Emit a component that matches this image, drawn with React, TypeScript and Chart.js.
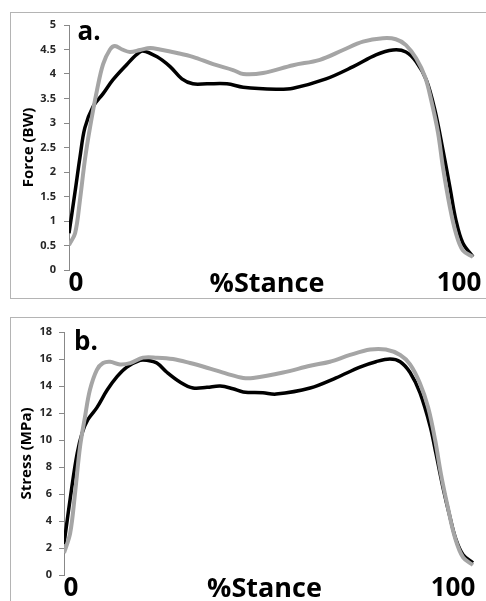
import React, { useEffect, useRef } from 'react';
import { Chart, registerables } from 'chart.js';

Chart.register(...registerables);

const FONT = "'Open Sans', 'DejaVu Sans', sans-serif";

// ---------- Data: panel a (Force, BW) ----------
const forceBlackX = [0, 1.5, 2.7, 3.9, 5.9, 8.4, 10.8, 14.3, 16.7, 18.2, 21.7, 24.9, 27.8, 30.5, 34, 38.9, 42.9, 51, 55.2, 63.3, 70, 75.6, 79.8, 83, 85.5, 88, 90.1, 92.1, 93.8, 95.3, 97, 99.5];
const forceBlackY = [0.75, 1.6, 2.3, 2.9, 3.33, 3.6, 3.88, 4.2, 4.4, 4.47, 4.35, 4.15, 3.9, 3.8, 3.8, 3.8, 3.73, 3.69, 3.71, 3.9, 4.15, 4.39, 4.49, 4.45, 4.25, 3.88, 3.27, 2.45, 1.7, 1.02, 0.55, 0.27];
const forceGrayX = [0, 1.5, 2.7, 3.9, 5.2, 6.9, 8.4, 10.1, 11.3, 13.1, 15, 17.5, 20, 22.4, 26.6, 30.5, 35.5, 40.4, 42.9, 47.8, 55.2, 61.8, 67.5, 72.4, 77.3, 80.5, 83, 85.5, 87.7, 89.2, 90.9, 92.1, 93.8, 95.3, 97, 99.5];
const forceGrayY = [0.51, 0.75, 1.43, 2.24, 2.92, 3.67, 4.2, 4.5, 4.57, 4.5, 4.45, 4.49, 4.53, 4.5, 4.43, 4.35, 4.2, 4.08, 4.0, 4.02, 4.18, 4.29, 4.49, 4.66, 4.73, 4.71, 4.59, 4.32, 3.94, 3.47, 2.8, 2.1, 1.29, 0.75, 0.4, 0.27];

// ---------- Data: panel b (Stress, MPa) ----------
const stressBlackX = [0, 1.9, 3.2, 4.4, 5.8, 8.0, 10.5, 12.9, 15.3, 18.5, 20.2, 22.6, 25.1, 28.2, 31.4, 34.8, 38, 41.1, 43.6, 48.4, 51.6, 59.9, 66.2, 72, 75.9, 79.3, 81.8, 84.2, 86.6, 89.1, 90.5, 92.2, 93.9, 95.4, 97.1, 99.5];
const stressBlackY = [2.3, 6.5, 9.0, 10.5, 11.5, 12.4, 13.7, 14.7, 15.4, 15.9, 15.9, 15.7, 15.0, 14.3, 13.85, 13.9, 14.0, 13.8, 13.56, 13.5, 13.4, 13.85, 14.6, 15.4, 15.8, 16.0, 15.8, 15.0, 13.5, 11.0, 9.0, 6.5, 4.3, 2.6, 1.5, 0.9];
const stressGrayX = [0, 1.5, 2.7, 3.9, 5.1, 6.3, 8.0, 9.5, 11.2, 13.6, 16.1, 19.2, 22.6, 26.5, 30.7, 34.8, 39.7, 43.6, 46, 53.3, 59.9, 64.7, 69.6, 74.5, 78.3, 81.8, 84.2, 86.6, 88.6, 90.3, 91.7, 93.4, 95.1, 97.1, 99.5];
const stressGrayY = [1.63, 3.1, 6.1, 9.5, 11.7, 13.7, 15.2, 15.7, 15.8, 15.6, 15.7, 16.1, 16.1, 16.0, 15.7, 15.35, 14.9, 14.6, 14.6, 15.0, 15.5, 15.8, 16.3, 16.7, 16.7, 16.3, 15.6, 14.2, 12.4, 10.0, 7.5, 5.0, 2.8, 1.3, 0.74];

// ---------- Text ----------
const xStartLabel = '0';
const xEndLabel = '100';
const xTitle = '%Stance';
const panelLetters = ['a.', 'b.'];
const yTitles = ['Force (BW)', 'Stress (MPa)'];
const yMaxes = [5, 18];
const ySteps = [0.5, 2];

const toPoints = (xs: number[], ys: number[]) => xs.map((x, i) => ({ x, y: ys[i] }));

const panelTextPlugin = {
  id: 'panelText',
  afterDraw(chart: any, _args: any, opts: any) {
    const { ctx, chartArea } = chart;
    ctx.save();
    ctx.fillStyle = '#000';
    ctx.textBaseline = 'middle';
    ctx.textAlign = 'center';
    ctx.font = `bold 26px ${FONT}`;
    ctx.fillText(opts.letter, chartArea.left + opts.letterDx, chartArea.top + opts.letterDy);
    const by = chartArea.bottom + opts.bottomDy;
    ctx.fillText(xStartLabel, chartArea.left + 7, by);
    ctx.fillText(xEndLabel, chartArea.right - opts.endDx, by);
    ctx.font = `bold 27px ${FONT}`;
    ctx.fillText(xTitle, (chartArea.left + chartArea.right) / 2 - 5, by);
    ctx.restore();
  },
};

function makeConfig(
  blackX: number[], blackY: number[], grayX: number[], grayY: number[],
  idx: number, pad: any, axisWidth: number, titlePad: number, tickPad: number,
  letterDx: number, letterDy: number, bottomDy: number, endDx: number
): any {
  return {
    type: 'line',
    data: {
      datasets: [
        {
          label: 'gray',
          data: toPoints(grayX, grayY),
          borderColor: '#a5a5a5',
          borderWidth: 4,
          pointRadius: 0,
          tension: 0.35,
          fill: false,
        },
        {
          label: 'black',
          data: toPoints(blackX, blackY),
          borderColor: '#000000',
          borderWidth: 3.5,
          pointRadius: 0,
          tension: 0.35,
          fill: false,
        },
      ],
    },
    options: {
      animation: false,
      responsive: false,
      maintainAspectRatio: false,
      layout: { padding: pad },
      plugins: {
        legend: { display: false },
        tooltip: { enabled: false },
        panelText: { letter: panelLetters[idx], letterDx, letterDy, bottomDy, endDx },
      },
      scales: {
        x: { type: 'linear', min: 0, max: 100, display: false },
        y: {
          type: 'linear',
          min: 0,
          max: yMaxes[idx],
          afterFit: (scale: any) => { scale.width = axisWidth; },
          ticks: {
            stepSize: ySteps[idx],
            padding: tickPad,
            color: '#262626',
            font: { family: FONT, size: 11, weight: 'bold' },
            callback: (v: any) => String(Math.round(Number(v) * 10) / 10),
          },
          grid: {
            drawOnChartArea: false,
            drawTicks: true,
            tickLength: 5,
            color: '#888888',
            lineWidth: 1,
          },
          border: { display: true, color: '#888888', width: 1 },
          title: {
            display: true,
            text: yTitles[idx],
            color: '#000',
            font: { family: FONT, size: 15, weight: 'bold' },
            padding: { top: titlePad, bottom: 0 },
          },
        },
      },
    },
    plugins: [panelTextPlugin],
  };
}

export default function App() {
  const refA = useRef<HTMLCanvasElement>(null);
  const refB = useRef<HTMLCanvasElement>(null);

  useEffect(() => {
    const a = new Chart(
      refA.current as HTMLCanvasElement,
      makeConfig(forceBlackX, forceBlackY, forceGrayX, forceGrayY, 0,
        { left: 15, top: 25, right: 11, bottom: 30 }, 54, 5, 8, 20, 8, 14, 16)
    );
    const b = new Chart(
      refB.current as HTMLCanvasElement,
      makeConfig(stressBlackX, stressBlackY, stressGrayX, stressGrayY, 1,
        { left: 10, top: 32, right: 11, bottom: 26 }, 54, 8, 7, 22, 11, 14, 22)
    );
    return () => {
      a.destroy();
      b.destroy();
    };
  }, []);

  return (
    <div style={{ position: 'fixed', left: 0, top: 0, width: 486, height: 601, overflow: 'hidden', background: '#fff' }}>
      <div style={{ position: 'absolute', left: 10, top: 12, width: 490, height: 285, border: '1px solid #b4b4b4' }} />
      <div style={{ position: 'absolute', left: 10, top: 317, width: 490, height: 400, border: '1px solid #b4b4b4' }} />
      <canvas ref={refA} width={486} height={300} style={{ position: 'absolute', left: 0, top: 0, width: 486, height: 300 }} />
      <canvas ref={refB} width={486} height={301} style={{ position: 'absolute', left: 0, top: 300, width: 486, height: 301 }} />
    </div>
  );
}
